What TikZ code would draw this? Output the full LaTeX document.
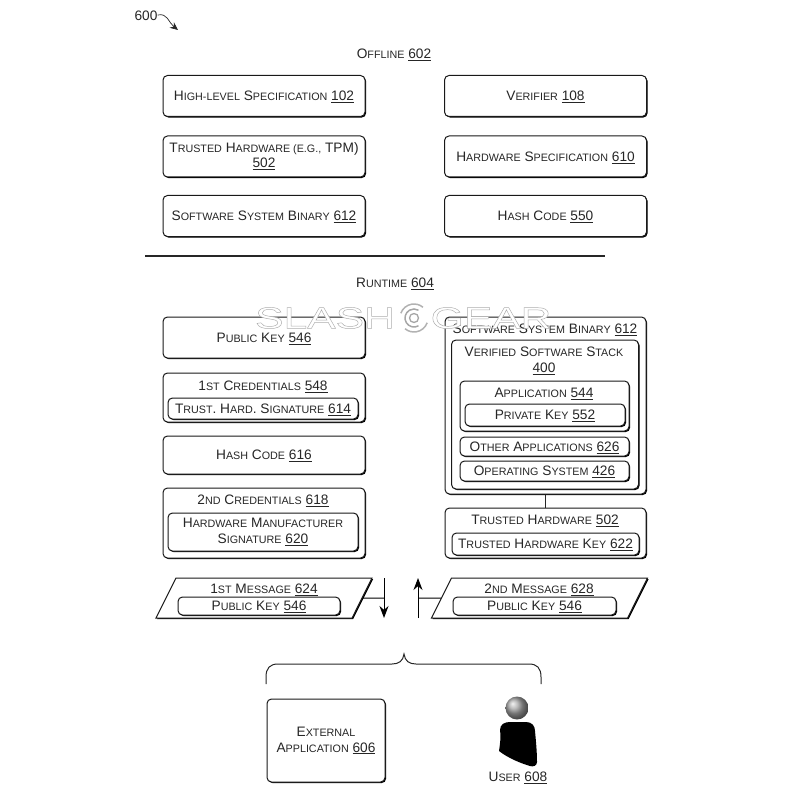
\documentclass[tikz,border=0pt]{standalone}
\usepackage{fontspec}
\setmainfont{Liberation Sans}
\newfontfamily\markfont[FakeBold=1.6,FakeStretch=1.42]{Liberation Sans}
\usetikzlibrary{shapes.geometric,shadows,arrows.meta}

\newcommand{\sm}[1]{{\fontsize{10.75}{13}\selectfont #1}}
\newcommand{\nr}[1]{\underline{#1}}

\tikzset{
  box/.style={draw=black!90, fill=white, rounded corners=4.5pt, line width=1pt, align=center, inner sep=0pt,
    text=black!85, font=\fontsize{13.7}{16}\selectfont, execute at begin node={\rule{0pt}{12pt}},
    general shadow={shadow xshift=1.1pt, shadow yshift=-1.1pt, fill=black}},
  wide/.style={box, minimum width=202, minimum height=41},
  msg/.style={box, trapezium, trapezium stretches body=true, rounded corners=0pt, trapezium left angle=63.5,
    trapezium right angle=116.5, inner ysep=14pt, inner xsep=0pt, minimum width=216},
  title/.style={text=black!85, inner sep=0pt, align=center, font=\fontsize{13.7}{16}\selectfont,
    execute at begin node={\rule{0pt}{12pt}}},
  tip/.style={-{Stealth[length=12pt,width=9pt]}}
}

\begin{document}
\begin{tikzpicture}[x=1pt,y=-1pt]
        \useasboundingbox (0,0) rectangle (793,794);

        \node[title] (fig) at (146,15) {600};
        \coordinate (figtip) at (178,30);
        \draw[-{Stealth[length=8pt,width=7pt]}, black!85, line width=.7pt] (fig.east) .. controls (168,13) and (168,22) .. (figtip);

        \node[title] (offline) at (394,54) {O\sm{FFLINE} \nr{602}};
        \node[title] (runtime) at (395,283) {R\sm{UNTIME} \nr{604}};

        \coordinate (ruleleft)  at (145,256);
        \coordinate (ruleright) at (605,256);
        \draw[line width=1.8pt, black!85] (ruleleft) -- (ruleright);

        \begin{scope}[every node/.style={wide}]
          \node (hispec)   at (264,96)    {H\sm{IGH-LEVEL} S\sm{PECIFICATION} \nr{102}};
          \node (verifier) at (545.5,96)  {V\sm{ERIFIER} \nr{108}};
          \node (thw)      at (264,156.5) {T\sm{RUSTED} H\sm{ARDWARE (E.G.,} TPM)\\[-1pt]\nr{502}};
          \node (hwspec)   at (545.5,156.5) {H\sm{ARDWARE} S\sm{PECIFICATION} \nr{610}};
          \node (swbin)    at (264,216)   {S\sm{OFTWARE} S\sm{YSTEM} B\sm{INARY} \nr{612}};
          \node (hash)     at (545.5,216) {H\sm{ASH} C\sm{ODE} \nr{550}};
          \node (pubkey)   at (264,337.5) {P\sm{UBLIC} K\sm{EY} \nr{546}};
          \node[minimum height=38] (hashrun) at (264,455) {H\sm{ASH} C\sm{ODE} \nr{616}};
          \node[minimum height=49] (credone) at (264,397.5) {};
          \node[minimum height=70] (credtwo) at (264,523) {};
          \node[minimum width=201, minimum height=177] (swrun) at (545.5,405.5) {};
          \node[minimum width=201, minimum height=50] (thwrun) at (545.5,533) {};
        \end{scope}

        \draw[line width=1pt, black!85] (swrun) -- (thwrun);

        \begin{scope}[every node/.style={box}]
          \node[minimum width=190, minimum height=21] (sigone) at (263,408.5) {T\sm{RUST}. H\sm{ARD}. S\sm{IGNATURE} \nr{614}};
          \node[minimum width=190, minimum height=38] (sigtwo) at (263,532) {H\sm{ARDWARE} M\sm{ANUFACTURER}\\S\sm{IGNATURE} \nr{620}};
          \node[minimum width=187, minimum height=149] (stack) at (545,414.5) {};
          \node[minimum width=169, minimum height=50] (app) at (544.5,406) {};
          \node[minimum width=160, minimum height=22] (privkey) at (545,415) {P\sm{RIVATE} K\sm{EY} \nr{552}};
          \node[minimum width=169, minimum height=19] (otherapp) at (544.5,446.5) {O\sm{THER} A\sm{PPLICATIONS} \nr{626}};
          \node[minimum width=169, minimum height=20] (opsys) at (544.5,471) {O\sm{PERATING} S\sm{YSTEM} \nr{426}};
          \node[minimum width=187, minimum height=22] (thwkey) at (545.5,544) {T\sm{RUSTED} H\sm{ARDWARE} K\sm{EY} \nr{622}};
        \end{scope}

        \begin{scope}[every node/.style={title}]
          \node (credonetxt) at (263,385.5) {1\sm{ST} C\sm{REDENTIALS} \nr{548}};
          \node (credtwotxt) at (263,500) {2\sm{ND} C\sm{REDENTIALS} \nr{618}};
          \node (swruntxt)   at (545,329) {S\sm{OFTWARE} S\sm{YSTEM} B\sm{INARY} \nr{612}};
          \node (stacktxt)   at (544,360.5) {V\sm{ERIFIED} S\sm{OFTWARE} S\sm{TACK}\\\nr{400}};
          \node (apptxt)     at (544,393) {A\sm{PPLICATION} \nr{544}};
          \node (thwruntxt)  at (545,520) {T\sm{RUSTED} H\sm{ARDWARE} \nr{502}};
        \end{scope}

        \node[msg] (msgone) at (264,598) {\phantom{M}};
        \node[msg] (msgtwo) at (539.5,598) {\phantom{M}};
        \node[box, minimum width=162, minimum height=18] (keyone) at (259,606) {P\sm{UBLIC} K\sm{EY} \nr{546}};
        \node[box, minimum width=163, minimum height=18] (keytwo) at (534.5,606) {P\sm{UBLIC} K\sm{EY} \nr{546}};
        \node[title] (msgonetxt) at (264,588.5) {1\sm{ST} M\sm{ESSAGE} \nr{624}};
        \node[title] (msgtwotxt) at (539,588.5) {2\sm{ND} M\sm{ESSAGE} \nr{628}};

        \coordinate (downtop) at (384,578);
        \coordinate (downmid) at (384,598);
        \coordinate (downend) at (384,618);
        \coordinate (uptop)   at (418,578);
        \coordinate (upmid)   at (418,598);
        \coordinate (upend)   at (418,618);
        \draw[tip, line width=1pt] (downtop) -- (downend);
        \draw[line width=1pt] (msgone.east) -- (downmid);
        \draw[tip, line width=1pt] (upend) -- (uptop);
        \draw[line width=1pt] (msgtwo.west) -- (upmid);

        \coordinate (braceleft)  at (266,684);
        \coordinate (braceright) at (541,684);
        \draw[line width=1pt, black!85] (braceleft) -- (266,677) .. controls (266,668) and (270,664) .. (278,664)
          -- (392,664) .. controls (399,664) and (403,661) .. (404,654)
          .. controls (405,661) and (409,664) .. (416,664) -- (529,664)
          .. controls (537,664) and (541,668) .. (541,677) -- (braceright);

        \node[wide, minimum width=118, minimum height=83] (extapp) at (326,740.5) {E\sm{XTERNAL}\\A\sm{PPLICATION} \nr{606}};

        \fill[black] (500,730) .. controls (500,724) and (505,722) .. (510,722) -- (526,722)
          .. controls (532,722) and (535,726) .. (535,731) .. controls (536,742) and (537,752) .. (537,762)
          .. controls (537,766) and (533,767) .. (530,766) .. controls (520,763) and (508,758) .. (499,751)
          .. controls (500,744) and (501,738) .. (500,730) -- cycle;
        \shade[ball color=black!35] (517,708) circle (11.5);
        \node[title] (user) at (518,777) {U\sm{SER} \nr{608}};

        \begin{scope}[every node/.style={inner sep=0pt, font=\markfont\fontsize{30}{30}\selectfont}]
          \node (markleft)  at (325,318) {\special{pdf:bcolor [1] [0.68]}SLASH\special{pdf:ecolor}};
          \node (markright) at (491,318) {\special{pdf:bcolor [1] [0.68]}GEAR\special{pdf:ecolor}};
        \end{scope}
        \draw[black!35, line width=1.3pt] (414,318) circle (4.5);
        \draw[black!35, line width=1.5pt] (414,318) ++(60:9) arc (60:300:9);
        \draw[black!30, line width=1.5pt] (414,318) ++(20:14) arc (20:130:14);
        \draw[black!30, line width=1.5pt] (414,318) ++(200:14) arc (200:310:14);
\end{tikzpicture}
\end{document}
